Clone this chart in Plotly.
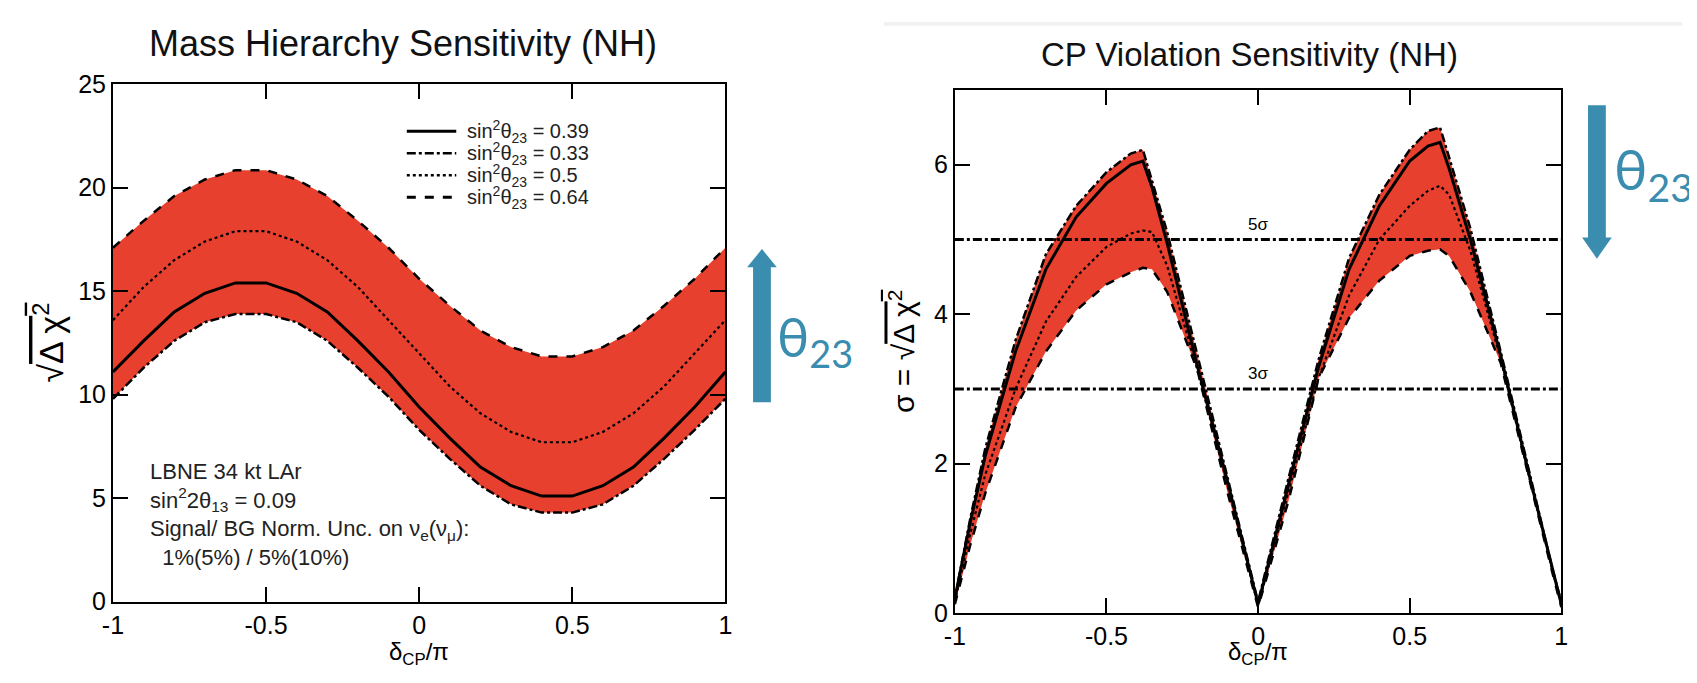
import plotly.graph_objects as go

# ---------------- data ----------------
# Mass hierarchy sensitivity (left panel): sqrt(delta chi^2) vs delta_CP/pi
mh_dcp = [-1.0, -0.9, -0.8, -0.7, -0.6, -0.5, -0.4, -0.3, -0.2, -0.1, 0.0,
          0.1, 0.2, 0.3, 0.4, 0.5, 0.6, 0.7, 0.8, 0.9, 1.0]
mh_s033 = [9.8, 11.3, 12.6, 13.5, 13.9, 13.9, 13.5, 12.6, 11.3, 9.9, 8.3,
           6.9, 5.6, 4.7, 4.3, 4.3, 4.7, 5.6, 6.9, 8.3, 9.8]
mh_s039 = [11.1, 12.6, 14.0, 14.9, 15.4, 15.4, 14.9, 14.0, 12.6, 11.1, 9.4,
           7.9, 6.5, 5.6, 5.1, 5.1, 5.6, 6.5, 7.9, 9.4, 11.1]
mh_s050 = [13.6, 15.2, 16.5, 17.4, 17.9, 17.9, 17.4, 16.5, 15.2, 13.6, 12.0,
           10.4, 9.1, 8.2, 7.7, 7.7, 8.2, 9.1, 10.4, 12.0, 13.6]
mh_s064 = [17.1, 18.4, 19.6, 20.4, 20.85, 20.85, 20.4, 19.6, 18.4, 17.1, 15.6,
           14.3, 13.1, 12.3, 11.85, 11.85, 12.3, 13.1, 14.3, 15.6, 17.1]

# CP violation sensitivity (right panel): sigma vs delta_CP/pi
cp_dcp = [-1.0, -0.95, -0.9, -0.8, -0.7, -0.6, -0.5, -0.42, -0.38, -0.35, -0.3,
          -0.2, -0.1, -0.03, 0.0, 0.03, 0.1, 0.2, 0.3, 0.4, 0.5, 0.56, 0.6,
          0.63, 0.7, 0.8, 0.9, 0.97, 1.0]
cp_s033 = [0.2, 1.25, 2.2, 3.65, 4.8, 5.45, 5.9, 6.15, 6.2, 5.8, 5.1,
           3.45, 1.8, 0.65, 0.15, 0.65, 1.8, 3.4, 4.75, 5.6, 6.2, 6.45, 6.5,
           6.1, 5.15, 3.5, 1.8, 0.6, 0.15]
cp_s039 = [0.2, 1.2, 2.1, 3.5, 4.6, 5.3, 5.75, 6.0, 6.05, 5.7, 4.95,
           3.3, 1.75, 0.6, 0.12, 0.6, 1.72, 3.3, 4.6, 5.45, 6.05, 6.25, 6.3,
           5.95, 5.0, 3.45, 1.75, 0.58, 0.12]
cp_s050 = [0.15, 1.05, 1.85, 3.0, 3.9, 4.5, 4.9, 5.08, 5.12, 5.1, 4.65,
           3.25, 1.7, 0.58, 0.1, 0.55, 1.62, 3.15, 4.25, 5.0, 5.45, 5.65, 5.72,
           5.6, 4.85, 3.4, 1.72, 0.56, 0.1]
cp_s064 = [0.12, 0.9, 1.6, 2.75, 3.5, 4.05, 4.4, 4.56, 4.62, 4.6, 4.3,
           3.25, 1.6, 0.52, 0.08, 0.5, 1.5, 3.15, 3.95, 4.45, 4.78, 4.85, 4.87,
           4.78, 4.3, 3.35, 1.68, 0.55, 0.08]

sigma_levels = [3, 5]
sigma_labels = ["3σ", "5σ"]

x_ticks = [-1, -0.5, 0, 0.5, 1]
x_ticktext = ["-1", "-0.5", "0", "0.5", "1"]
mh_yticks = [0, 5, 10, 15, 20, 25]
cp_yticks = [0, 2, 4, 6]

legend_names = ["sin<sup>2</sup>θ<sub>23</sub> = 0.39", "sin<sup>2</sup>θ<sub>23</sub> = 0.33",
                "sin<sup>2</sup>θ<sub>23</sub> = 0.5", "sin<sup>2</sup>θ<sub>23</sub> = 0.64"]
legend_dashes = ["solid", "dashdot", "dot", "dash"]

# ---------------- style / geometry ----------------
OFF = 8                       # default page margin of the html body
FW, FH = 1697 - 2 * OFF, 683 - 2 * OFF
def px(x):                    # window pixel -> paper fraction
    return (x - OFF) / FW
def py(y):
    return 1 - (y - OFF) / FH

RED = "#E8402E"
BLUE = "#3B8DB0"
FONT = "Liberation Sans Narrow, Liberation Sans, Arial, sans-serif"

fig = go.Figure()

def band(xa, ya, x, lo, hi, mid_solid, mid_dot, lo_dash, hi_dash):
    fig.add_trace(go.Scatter(x=x, y=lo, mode="lines", xaxis=xa, yaxis=ya,
                             line=dict(color="black", width=2.5, dash=lo_dash),
                             showlegend=False, hoverinfo="skip"))
    fig.add_trace(go.Scatter(x=x, y=hi, mode="lines", xaxis=xa, yaxis=ya,
                             fill="tonexty", fillcolor=RED,
                             line=dict(color="black", width=2.5, dash=hi_dash),
                             showlegend=False, hoverinfo="skip"))
    fig.add_trace(go.Scatter(x=x, y=mid_dot, mode="lines", xaxis=xa, yaxis=ya,
                             line=dict(color="black", width=2.2, dash="dot"),
                             showlegend=False, hoverinfo="skip"))
    fig.add_trace(go.Scatter(x=x, y=mid_solid, mode="lines", xaxis=xa, yaxis=ya,
                             line=dict(color="black", width=3),
                             showlegend=False, hoverinfo="skip"))

# MH: 0.33 lowest, 0.64 highest
band("x", "y", mh_dcp, mh_s033, mh_s064, mh_s039, mh_s050, "dashdot", "dash")
# CPV: 0.64 lowest, 0.33 highest
band("x2", "y2", cp_dcp, cp_s064, cp_s033, cp_s039, cp_s050, "dash", "dashdot")

# sigma reference lines
for lvl in sigma_levels:
    fig.add_trace(go.Scatter(x=[-1, 1], y=[lvl, lvl], mode="lines", xaxis="x2", yaxis="y2",
                             line=dict(color="black", width=3, dash="dashdot"),
                             showlegend=False, hoverinfo="skip"))

axis_common = dict(showline=True, linecolor="black", linewidth=2, mirror="ticks",
                   ticks="inside", ticklen=15, tickwidth=1.5, tickcolor="black",
                   showgrid=False, zeroline=False,
                   tickfont=dict(family=FONT, size=25, color="black"))

annotations = []
shapes = []

# panel titles
annotations.append(dict(text="Mass Hierarchy Sensitivity (NH)", x=px(396), y=py(30),
                        xref="paper", yref="paper", xanchor="center", yanchor="middle",
                        showarrow=False, font=dict(family=FONT, size=36, color="#111")))
annotations.append(dict(text="CP Violation Sensitivity (NH)", x=px(1252), y=py(42),
                        xref="paper", yref="paper", xanchor="center", yanchor="middle",
                        showarrow=False, font=dict(family=FONT, size=33, color="#111")))
# axis titles
for xc in (412, 1260):
    annotations.append(dict(text="δ<sub>CP</sub>/π", x=px(xc), y=py(667),
                            xref="paper", yref="paper", xanchor="center", yanchor="middle",
                            showarrow=False, font=dict(family=FONT, size=24, color="black")))
annotations.append(dict(text="√<span style='text-decoration:overline'>Δ χ<sup>2</sup></span>",
                        x=px(38), y=py(343), xref="paper", yref="paper",
                        xanchor="center", yanchor="middle", showarrow=False,
                        textangle=-90, font=dict(family=FONT, size=34, color="black")))
annotations.append(dict(text="σ = √<span style='text-decoration:overline'>Δ χ<sup>2</sup></span>",
                        x=px(900), y=py(352), xref="paper", yref="paper",
                        xanchor="center", yanchor="middle", showarrow=False,
                        textangle=-90, font=dict(family=FONT, size=30, color="black")))
# info text
annotations.append(dict(text="LBNE 34 kt LAr<br>sin<sup>2</sup>2θ<sub>13</sub> = 0.09<br>"
                             "Signal/ BG Norm. Unc. on ν<sub>e</sub>(ν<sub>μ</sub>):<br>"
                             "\u00a0\u00a01%(5%) / 5%(10%)",
                        x=-0.885, y=7.0, xref="x", yref="y", xanchor="left", yanchor="top",
                        align="left", showarrow=False,
                        font=dict(family=FONT, size=22, color="#222")))
# sigma labels
for lvl, lab in zip(sigma_levels, sigma_labels):
    annotations.append(dict(text=lab, x=0, y=lvl, xref="x2", yref="y2", yshift=15,
                            showarrow=False, font=dict(family=FONT, size=17, color="black")))

# legend (drawn as sample lines + text)
leg_rows = [122, 145, 168, 191]
for name, dash, yr in zip(legend_names, legend_dashes, leg_rows):
    shapes.append(dict(type="line", xref="paper", yref="paper",
                       x0=px(400), x1=px(450), y0=py(yr), y1=py(yr),
                       line=dict(color="black", width=3 if dash in ("solid", "dash") else 2.5,
                                 dash=dash)))
    annotations.append(dict(text=name, x=px(459), y=py(yr), xref="paper", yref="paper",
                            xanchor="left", yanchor="middle", showarrow=False,
                            font=dict(family=FONT, size=20, color="#222")))

# theta23 arrows and labels
annotations.append(dict(text="θ<sub>23</sub>", x=px(772), y=py(340), xref="paper", yref="paper",
                        xanchor="left", yanchor="middle", showarrow=False,
                        font=dict(family="Lato, Open Sans, sans-serif", size=54, color=BLUE)))
annotations.append(dict(text="θ<sub>23</sub>", x=px(1618), y=py(165), xref="paper", yref="paper",
                        xanchor="left", yanchor="middle", showarrow=False,
                        font=dict(family="Lato, Open Sans, sans-serif", size=56, color=BLUE)))

# faint grey strip at top right
shapes.append(dict(type="rect", xref="paper", yref="paper", x0=px(882), x1=1, y0=py(12), y1=1,
                   fillcolor="#f1f1f1", line=dict(width=0), layer="below"))
# left arrow (up)
shapes.append(dict(type="rect", xref="paper", yref="paper", x0=px(750), x1=px(768),
                   y0=py(405), y1=py(262), fillcolor=BLUE, line=dict(width=0)))
shapes.append(dict(type="path", xref="paper", yref="paper",
                   path=f"M {px(744)},{py(264)} L {px(774)},{py(264)} L {px(759)},{py(245)} Z",
                   fillcolor=BLUE, line=dict(width=0)))
# right arrow (down)
shapes.append(dict(type="rect", xref="paper", yref="paper", x0=px(1594), x1=px(1612),
                   y0=py(235), y1=py(95), fillcolor=BLUE, line=dict(width=0)))
shapes.append(dict(type="path", xref="paper", yref="paper",
                   path=f"M {px(1588)},{py(233)} L {px(1618)},{py(233)} L {px(1603)},{py(255)} Z",
                   fillcolor=BLUE, line=dict(width=0)))

fig.update_layout(
    width=FW, height=FH,
    margin=dict(l=0, r=0, t=0, b=0),
    paper_bgcolor="white", plot_bgcolor="white",
    font=dict(family=FONT, color="black"),
    xaxis=dict(domain=[px(103), px(722)], range=[-1, 1], tickvals=x_ticks, ticktext=x_ticktext,
               anchor="y", **axis_common),
    yaxis=dict(domain=[py(613), py(73)], range=[0, 25], tickvals=mh_yticks, anchor="x",
               **axis_common),
    xaxis2=dict(domain=[px(954), px(1567)], range=[-1, 1], tickvals=x_ticks, ticktext=x_ticktext,
                anchor="y2", **axis_common),
    yaxis2=dict(domain=[py(625), py(79)], range=[0, 7], tickvals=cp_yticks, anchor="x2",
                **axis_common),
    showlegend=False,
    annotations=annotations,
    shapes=shapes,
)

fig.write_html("out.html")
